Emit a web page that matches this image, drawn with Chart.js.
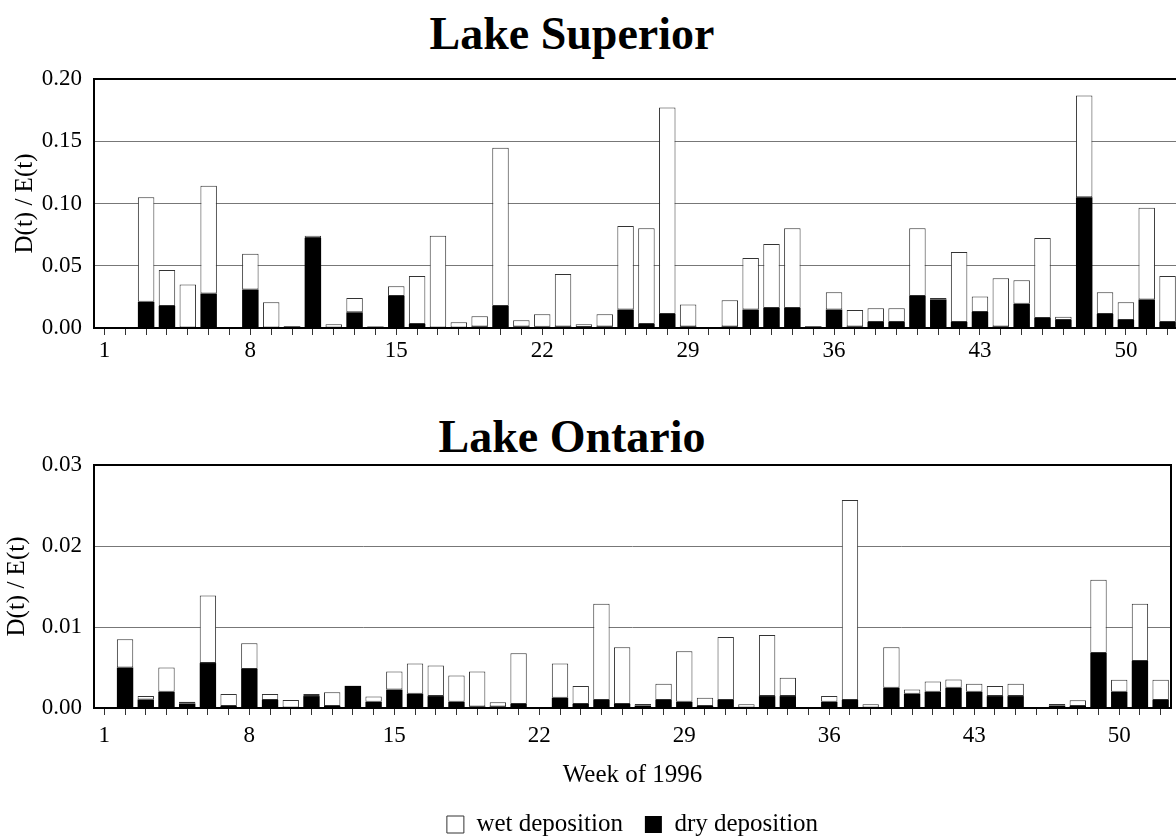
<!DOCTYPE html>
<html>
<head>
<meta charset="utf-8">
<script src="https://cdn.jsdelivr.net/npm/chart.js@4.4.0/dist/chart.umd.min.js"></script>
<style>
html, body { margin: 0; padding: 0; background: #fff; width: 1176px; height: 840px; overflow: hidden; }
.title { position: absolute; left: 572px; transform: translateX(-50%); font: bold 46px 'Liberation Serif', 'Times New Roman', serif; line-height: 46px; white-space: nowrap; color: #000; }
canvas { position: absolute; left: 0; }
</style>
</head>
<body>
<div class="title" style="top:11px">Lake Superior</div>
<div class="title" style="top:414px">Lake Ontario</div>
<canvas id="chart1" width="1190" height="372" style="top:0"></canvas>
<canvas id="chart2" width="1176" height="470" style="top:380px"></canvas>
<script>
var weeks = [];
for (var w = 1; w <= 52; w++) weeks.push(String(w));

// Lake Superior
var superiorDry = [0, 0, 0.021, 0.0177, 0, 0.0277, 0, 0.0309, 0, 0.0013, 0.0723, 0, 0.0126, 0.001,
    0.0258, 0.0032, 0, 0, 0.0013, 0.0177, 0.0013, 0.001, 0.0013, 0.0008, 0.0013, 0.0148, 0.0032,
    0.0113, 0.0013, 0, 0.0013, 0.0148, 0.0161, 0.0161, 0.0013, 0.0148, 0.0013, 0.0048, 0.0048,
    0.0258, 0.0229, 0.0048, 0.0129, 0.0013, 0.0194, 0.0081, 0.0065, 0.1051, 0.0113, 0.0065, 0.0229, 0.0048];
var superiorWet = [0, 0, 0.084, 0.0288, 0.035, 0.0866, 0, 0.0288, 0.0207, 0, 0.0017, 0.003, 0.0114, 0.0005,
    0.0078, 0.0385, 0.074, 0.0046, 0.0081, 0.127, 0.0049, 0.01, 0.042, 0.0022, 0.0097, 0.0672, 0.0769,
    0.1659, 0.0175, 0, 0.021, 0.0414, 0.0514, 0.064, 0, 0.014, 0.0132, 0.0111, 0.0111,
    0.0543, 0.0011, 0.0562, 0.0124, 0.0387, 0.019, 0.0642, 0.0026, 0.0817, 0.0175, 0.0142, 0.0736, 0.0369];

// Lake Ontario
var ontarioDry = [0, 0.005, 0.00105, 0.002, 0.00055, 0.00555, 0.00025, 0.00483, 0.001, 0, 0.00147, 0.00025,
    0.00273, 0.00076, 0.00227, 0.00176, 0.00147, 0.00076, 0.0002, 0.0002, 0.0005, 0, 0.00126, 0.0005,
    0.001, 0.0005, 0.0003, 0.001, 0.00076, 0.00025, 0.001, 0, 0.00147, 0.00147, 0, 0.00076, 0.001, 0,
    0.0025, 0.00176, 0.002, 0.0025, 0.002, 0.00147, 0.00147, 0, 0.0003, 0.00025, 0.0068, 0.002, 0.0058, 0.001];
var ontarioWet = [0, 0.0035, 0.00042, 0.003, 0.00021, 0.00835, 0.00147, 0.00317, 0.00072, 0.001, 0.00025, 0.00168,
    0, 0.00067, 0.00223, 0.00374, 0.00378, 0.00324, 0.0043, 0.0005, 0.00626, 0, 0.00424, 0.00223,
    0.01186, 0.007, 0.0002, 0.002, 0.00624, 0.00101, 0.00778, 0.00046, 0.00753, 0.00227, 0, 0.00071, 0.02467, 0.00046,
    0.005, 0.00051, 0.00128, 0.00103, 0.001, 0.00126, 0.00153, 0, 0.0002, 0.00072, 0.00904, 0.0015, 0.00706, 0.0025];

var superiorTicks = [0, 0.05, 0.10, 0.15, 0.20];
var ontarioTicks = [0, 0.01, 0.02, 0.03];

Chart.defaults.font.family = "'Liberation Serif', 'Times New Roman', serif";
Chart.defaults.color = '#000';

var frame = {
    id: 'frame',
    afterDraw: function(chart) {
        var a = chart.chartArea, ctx = chart.ctx;
        ctx.save();
        ctx.strokeStyle = '#000';
        ctx.lineWidth = 2;
        ctx.strokeRect(a.left, a.top, a.right - a.left, a.bottom - a.top);
        ctx.restore();
    }
};

function makeChart(id, dry, wet, ticks, opts) {
    var ctx = document.getElementById(id).getContext('2d');
    return new Chart(ctx, {
        type: 'bar',
        data: {
            labels: weeks,
            datasets: [{
                label: 'dry deposition',
                data: dry.map(function(v) { return v || null; }),
                backgroundColor: '#000',
                borderColor: '#000',
                borderWidth: 0,
                barPercentage: 0.79,
                categoryPercentage: 1.0
            }, {
                label: 'wet deposition',
                data: wet.map(function(v) { return v || null; }),
                backgroundColor: '#fff',
                borderColor: '#333',
                borderWidth: 1,
                borderSkipped: false,
                barPercentage: 0.79,
                categoryPercentage: 1.0
            }]
        },
        options: {
            responsive: false,
            animation: false,
            devicePixelRatio: 1,
            layout: { padding: opts.padding },
            plugins: {
                legend: opts.legend,
                tooltip: { enabled: false }
            },
            scales: {
                x: {
                    stacked: true,
                    grid: { display: true, drawOnChartArea: false, drawTicks: true, tickLength: 7, offset: false, color: '#333' },
                    border: { display: false },
                    ticks: {
                        autoSkip: false,
                        maxRotation: 0,
                        padding: opts.xPad,
                        font: { size: 23 },
                        callback: function(v, i) { return i % 7 === 0 ? weeks[i] : ''; }
                    },
                    title: opts.xTitle,
                    afterFit: function(s) { s.height = opts.xHeight; }
                },
                y: {
                    stacked: true,
                    min: ticks[0],
                    max: ticks[ticks.length - 1],
                    afterBuildTicks: function(s) { s.ticks = ticks.map(function(v) { return { value: v }; }); },
                    grid: { color: '#777', lineWidth: 1, drawTicks: false },
                    border: { display: false },
                    ticks: {
                        padding: 12,
                        font: { size: 23 },
                        callback: function(v) { return Number(v).toFixed(2); }
                    },
                    title: { display: true, text: 'D(t) / E(t)', font: { size: 25 }, padding: { top: opts.yTitlePad, bottom: 0 } },
                    afterFit: function(s) { s.width = 94; }
                }
            }
        },
        plugins: [frame]
    });
}

var myChart1 = makeChart('chart1', superiorDry, superiorWet, superiorTicks, {
    padding: { top: 79, right: 12, left: 0, bottom: 0 },
    legend: { display: false },
    xPad: 2,
    xTitle: { display: false },
    xHeight: 44,
    yTitlePad: 10
});

var myChart2 = makeChart('chart2', ontarioDry, ontarioWet, ontarioTicks, {
    padding: { top: 85, right: 5, left: 0, bottom: 3 },
    legend: {
        display: true,
        position: 'bottom',
        fullSize: false,
        reverse: true,
        labels: { boxWidth: 17, boxHeight: 17, padding: 22, font: { size: 25 } }
    },
    xPad: 7,
    xTitle: { display: true, text: 'Week of 1996', font: { size: 25 }, padding: { top: 0, bottom: 0 } },
    xHeight: 82,
    yTitlePad: 2
});
</script>
</body>
</html>
